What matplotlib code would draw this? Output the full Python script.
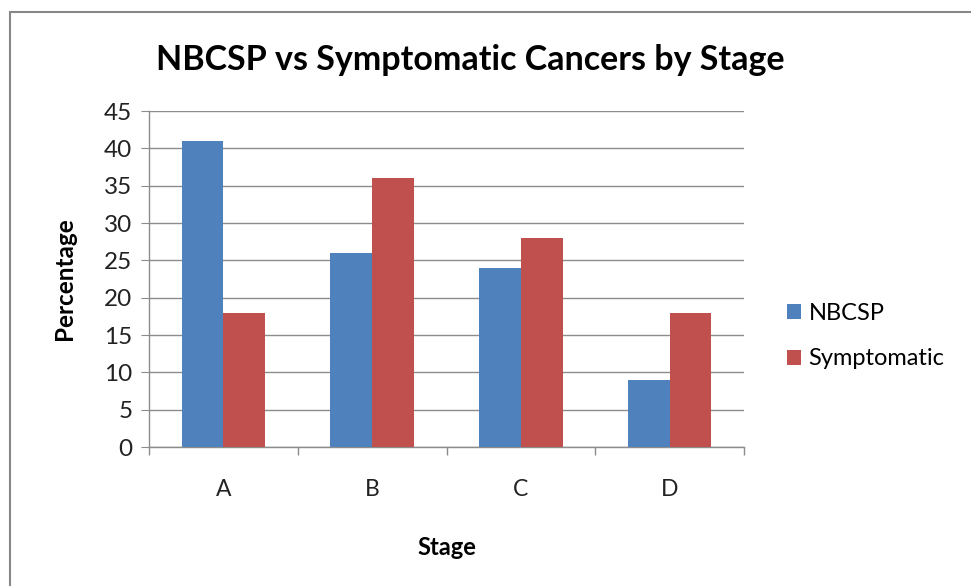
import matplotlib
matplotlib.use("Agg")
import matplotlib.pyplot as plt
import numpy as np
from matplotlib.patches import Rectangle

categories = ["A", "B", "C", "D"]
nbcsp = [41, 26, 24, 9]
symptomatic = [18, 36, 28, 18]
series_names = ["NBCSP", "Symptomatic"]
yticks = [0, 5, 10, 15, 20, 25, 30, 35, 40, 45]

plt.rcParams['font.family'] = ['Lato', 'DejaVu Sans']

fig = plt.figure(figsize=(9.71, 5.86), dpi=100)
fig.patch.set_facecolor("white")
# outer chart border
fig.patches.append(Rectangle((10/971, -0.01), 1.0, 1 - 12/586 + 0.01, transform=fig.transFigure,
                             fill=False, edgecolor="#878787", linewidth=1.5))

ax = fig.add_axes([149/971, 1 - 447/586, (744 - 149)/971, (447 - 111)/586])
x = np.arange(len(categories))
w = 0.28
b1 = ax.bar(x - w/2, nbcsp, width=w, color="#4F81BD", label=series_names[0], zorder=3)
b2 = ax.bar(x + w/2, symptomatic, width=w, color="#C0504D", label=series_names[1], zorder=3)

ax.set_xlim(-0.5, len(categories) - 0.5)
ax.set_ylim(0, 45)
ax.set_yticks(yticks)
ax.yaxis.grid(True, color="#8C8C8C", linewidth=1.0, zorder=0)
ax.set_axisbelow(True)
for s in ["top", "right"]:
    ax.spines[s].set_visible(False)
for s in ["left", "bottom"]:
    ax.spines[s].set_color("#8C8C8C")
    ax.spines[s].set_linewidth(1.0)

ax.set_xticks(x)
ax.set_xticklabels(categories)
ax.tick_params(axis="x", length=0, labelsize=16.5, pad=23, colors="#222222")
ax.set_xticks(np.arange(-0.5, len(categories)), minor=True)
ax.tick_params(axis="x", which="minor", length=6, color="#8C8C8C", width=1.0)
ax.tick_params(axis="y", length=6, color="#8C8C8C", labelsize=17.5, pad=6, labelcolor="#222222")

ax.set_xlabel("Stage", fontsize=17, fontweight="bold", labelpad=26)
ax.set_ylabel("Percentage", fontsize=17.5, fontweight="bold", labelpad=20)

fig.text(470/971, 1 - 60/586, "NBCSP vs Symptomatic Cancers by Stage", ha="center", va="center",
         fontsize=24.5, fontweight="bold")

leg = fig.legend(handles=[b1, b2], labels=series_names, loc="center left",
                 bbox_to_anchor=(766/971, 1 - 336/586), frameon=False, fontsize=17,
                 handlelength=0.6, handleheight=0.6, handletextpad=0.3, labelspacing=1.05)

fig.savefig("out.png", dpi=100)
